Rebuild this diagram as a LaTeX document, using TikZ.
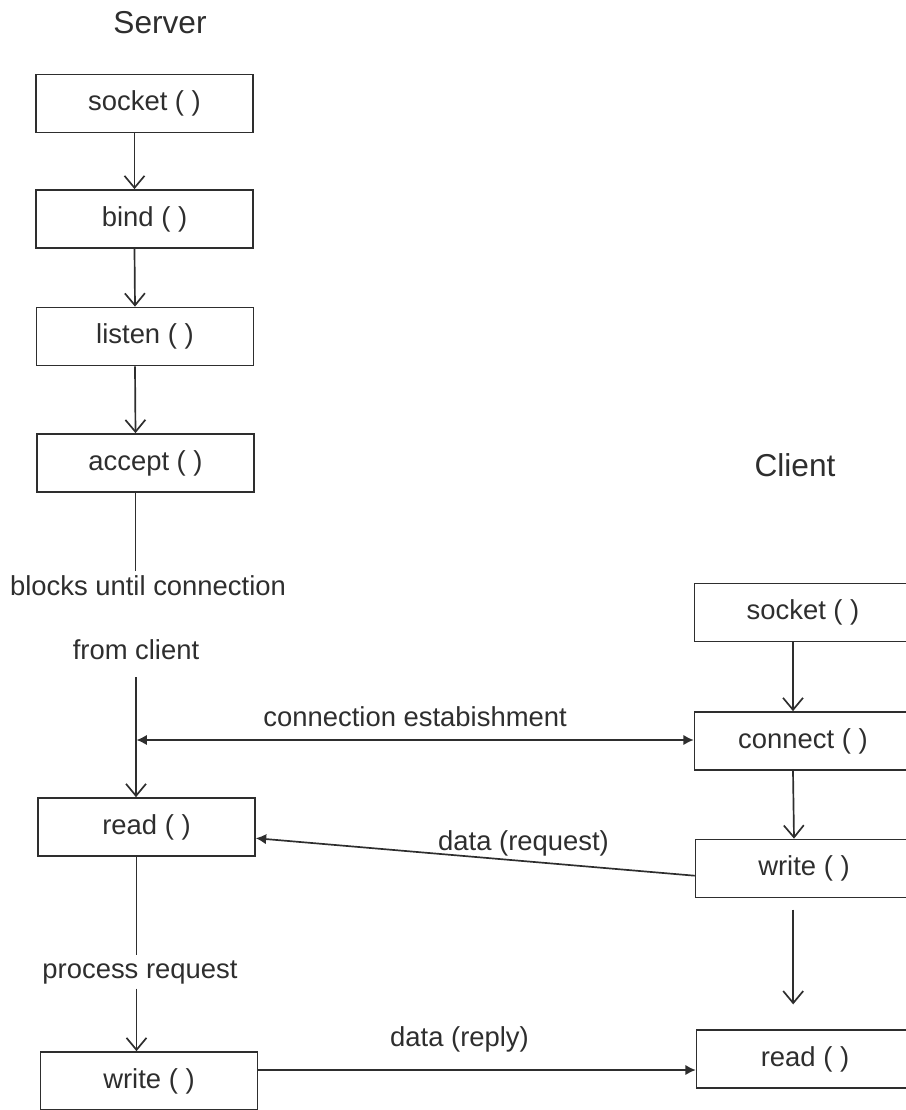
\documentclass[tikz,border=0pt]{standalone}
\usepackage{fontspec}
\setmainfont{Liberation Sans}
\usetikzlibrary{arrows.meta}
\definecolor{ink}{gray}{0.18}
\tikzset{
  call/.style={draw=ink, line width=1.2pt, minimum width=5.42cm, minimum height=1.45cm, inner sep=0pt, text=ink, font=\fontsize{19.5}{23}\selectfont},
  note/.style={text=ink, font=\fontsize{19.5}{23}\selectfont},
  side/.style={text=ink, font=\fontsize{22.5}{27}\selectfont},
  wire/.style={draw=ink, line width=1.2pt},
  flow/.style={wire, -{Straight Barb[length=3mm,width=5mm]}},
  msg/.style={wire, -{Latex[length=2.6mm,width=2.6mm]}},
  twoway/.style={wire, {Latex[length=2.6mm,width=2.6mm]}-{Latex[length=2.6mm,width=2.6mm]}},
}
\begin{document}
\begin{tikzpicture}[x=0.025cm,y=-0.025cm]
            \useasboundingbox (0,0) rectangle (906,1110);

            % server side
            \node[side] (Sv) at (160,23) {Server};
            \node[call] (SS) at (144.5,103.5) {socket ( )};
            \node[call] (SB) at (144.5,219) {bind ( )};
            \node[call] (SL) at (145,336.5) {listen ( )};
            \node[call] (SA) at (145.5,463) {accept ( )};
            \node[note] (SK) at (148,586) {blocks until connection};
            \node[note] (SF) at (136,650) {from client};
            \node[call] (SR) at (146.5,827) {read ( )};
            \node[note] (SP) at (140,972) {process request};
            \node[call] (SW) at (149,1081) {write ( )};

            % client side
            \node[side] (Cl) at (795,465) {Client};
            \node[call] (CS) at (803,612.5) {socket ( )};
            \node[call] (CC) at (803,741) {connect ( )};
            \node[call] (CW) at (804,868.5) {write ( )};
            \node[call] (CR) at (805,1059) {read ( )};

            \coordinate (CE) at (136.5,740);

            \draw[flow] ([xshift=-0.25cm]SS.south) to ([xshift=-0.25cm]SB.north);
            \draw[flow] ([xshift=-0.25cm]SB.south) to ([xshift=-0.25cm]SL.north);
            \draw[flow] ([xshift=-0.25cm]SL.south) to ([xshift=-0.25cm]SA.north);
            \draw[wire] ([xshift=-0.25cm]SA.south) to ([xshift=-0.25cm]SA.south |- SK.north);
            \draw[flow, shorten <=0.3cm] (SF.south) to (SF.south |- SR.north);
            \draw[wire] ([xshift=-0.25cm]SR.south) to ([xshift=-0.25cm]SR.south |- SP.north);
            \draw[flow] ([xshift=-0.25cm]SR.south |- SP.south) to ([xshift=-0.25cm]SR.south |- SW.north);

            \draw[flow] ([xshift=-0.25cm]CS.south) to ([xshift=-0.25cm]CC.north);
            \draw[flow] ([xshift=-0.25cm]CC.south) to ([xshift=-0.25cm]CW.north);
            \draw[flow, shorten <=0.28cm, shorten >=0.62cm] ([xshift=-0.27cm]CW.south) to ([xshift=-0.27cm]CW.south |- CR.north);

            \draw[twoway] (CE) to node[note, midway, above=0.2cm] {connection estabishment} (CE -| CC.west);
            \draw[msg] ([yshift=-0.18cm]CW.west) to node[note, pos=0.39, above=0.1cm, inner sep=0pt] {data (request)} ([yshift=-0.28cm]SR.east);
            \draw[msg] ([yshift=0.275cm]SW.east) to node[note, pos=0.46, above=0.3cm] {data (reply)} ([yshift=0.275cm]SW.east -| CR.west);
        \end{tikzpicture}
\end{document}
